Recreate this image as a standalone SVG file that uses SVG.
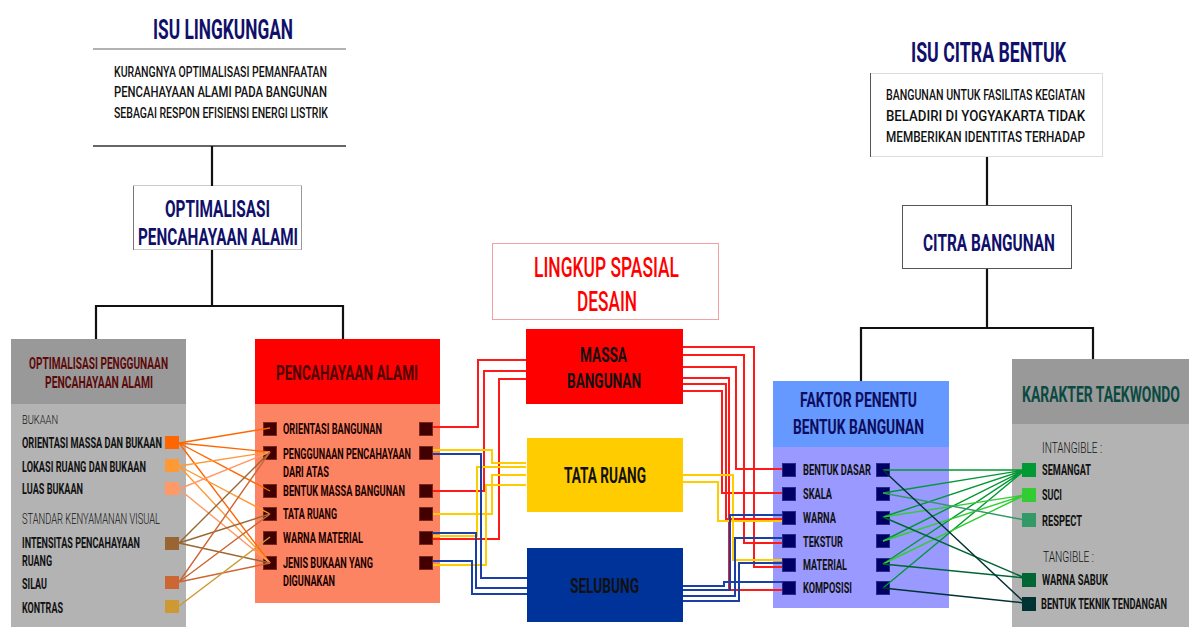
<svg xmlns="http://www.w3.org/2000/svg" width="1192" height="630" viewBox="0 0 1192 630">
<style>
text{font-family:Roboto,"Liberation Sans",sans-serif;}
.b{font-weight:700;}
.m{font-weight:500;}
.l{font-weight:300;}
.navy{fill:#10106b;}
.blk{fill:#111;}
.tree{fill:none;stroke:#111;stroke-width:2.2;}
.w{fill:none;stroke-width:2;}
.r{stroke:#ff1a1a;}
.y{stroke:#ffcc00;}
.bl{stroke:#1a3fa6;}
.g{fill:none;stroke-width:1.4;}
.pa{fill:#420000;stroke:#7a2a1a;stroke-width:1;}
.fk{fill:#000066;stroke:#2a2a8a;stroke-width:1;}
</style>

<rect width="1192" height="630" fill="#fff"/>

<!-- Left top: ISU LINGKUNGAN -->
<g id="isu-lingkungan">
<text x="223" y="39" class="b navy" font-size="28" text-anchor="middle" textLength="140" lengthAdjust="spacingAndGlyphs">ISU LINGKUNGAN</text>
<line x1="93" y1="49" x2="346" y2="49" stroke="#999" stroke-width="1.5"/>
<text x="114" y="77" class="m blk" font-size="14" textLength="213" lengthAdjust="spacingAndGlyphs">KURANGNYA OPTIMALISASI PEMANFAATAN</text>
<text x="114" y="97" class="m blk" font-size="14" textLength="213" lengthAdjust="spacingAndGlyphs">PENCAHAYAAN  ALAMI  PADA  BANGUNAN</text>
<text x="114" y="118" class="m blk" font-size="14" textLength="214" lengthAdjust="spacingAndGlyphs">SEBAGAI RESPON EFISIENSI ENERGI LISTRIK</text>
<line x1="93" y1="146" x2="346" y2="146" stroke="#333" stroke-width="1.5"/>
</g>

<g id="optimalisasi-pencahayaan">
<rect x="133.5" y="185.5" width="168" height="64" fill="#fff" stroke="#ccc" stroke-width="1"/>
<line x1="133.5" y1="186" x2="133.5" y2="250" stroke="#777"/>
<line x1="301.5" y1="186" x2="301.5" y2="250" stroke="#999"/>
<text x="217.5" y="217" class="b navy" font-size="24" text-anchor="middle" textLength="105" lengthAdjust="spacingAndGlyphs">OPTIMALISASI</text>
<text x="218" y="245" class="b navy" font-size="24" text-anchor="middle" textLength="160" lengthAdjust="spacingAndGlyphs">PENCAHAYAAN ALAMI</text>
</g>

<!-- Right top: ISU CITRA BENTUK -->
<g id="isu-citra-bentuk">
<text x="988.5" y="62" class="b navy" font-size="28" text-anchor="middle" textLength="155" lengthAdjust="spacingAndGlyphs">ISU CITRA BENTUK</text>
<rect x="870.5" y="73.5" width="232" height="83" fill="#fff" stroke="#ddd" stroke-width="1"/>
<line x1="870.5" y1="73" x2="870.5" y2="157" stroke="#555"/>
<text x="886" y="100" class="m blk" font-size="14" textLength="199" lengthAdjust="spacingAndGlyphs">BANGUNAN UNTUK FASILITAS KEGIATAN</text>
<text x="886" y="121" class="m blk" font-size="14" textLength="199" lengthAdjust="spacingAndGlyphs">BELADIRI  DI  YOGYAKARTA  TIDAK</text>
<text x="886" y="142" class="m blk" font-size="14" textLength="199" lengthAdjust="spacingAndGlyphs">MEMBERIKAN  IDENTITAS  TERHADAP</text>
</g>

<g id="citra-bangunan">
<rect x="902.5" y="205.5" width="169" height="63" fill="#fff" stroke="#555" stroke-width="1"/>
<text x="989" y="251" class="b navy" font-size="24" text-anchor="middle" textLength="132" lengthAdjust="spacingAndGlyphs">CITRA BANGUNAN</text>
</g>

<!-- Left box -->
<g id="optimalisasi-penggunaan">
<rect x="11" y="339" width="175" height="65" fill="#999999"/>
<rect x="11" y="404" width="175" height="223" fill="#b3b3b3"/>
<text x="98.5" y="369" class="b" fill="#5c0a0a" font-size="16" text-anchor="middle" textLength="139" lengthAdjust="spacingAndGlyphs">OPTIMALISASI PENGGUNAAN</text>
<text x="99" y="388" class="b" fill="#5c0a0a" font-size="16" text-anchor="middle" textLength="108" lengthAdjust="spacingAndGlyphs">PENCAHAYAAN ALAMI</text>
<text x="22" y="424" class="l blk" font-size="13" textLength="36" lengthAdjust="spacingAndGlyphs">BUKAAN</text>
<text x="22" y="448" class="b blk" font-size="15" textLength="140" lengthAdjust="spacingAndGlyphs">ORIENTASI MASSA DAN BUKAAN</text>
<text x="22" y="472" class="b blk" font-size="15" textLength="124" lengthAdjust="spacingAndGlyphs">LOKASI RUANG DAN BUKAAN</text>
<text x="22" y="494" class="b blk" font-size="15" textLength="61" lengthAdjust="spacingAndGlyphs">LUAS BUKAAN</text>
<text x="22" y="524" class="l blk" font-size="14" textLength="138" lengthAdjust="spacingAndGlyphs">STANDAR KENYAMANAN VISUAL</text>
<text x="22" y="548" class="b blk" font-size="15" textLength="118" lengthAdjust="spacingAndGlyphs">INTENSITAS PENCAHAYAAN</text>
<text x="22" y="566" class="b blk" font-size="15" textLength="30" lengthAdjust="spacingAndGlyphs">RUANG</text>
<text x="22" y="589" class="b blk" font-size="15" textLength="25" lengthAdjust="spacingAndGlyphs">SILAU</text>
<text x="22" y="613" class="b blk" font-size="15" textLength="41" lengthAdjust="spacingAndGlyphs">KONTRAS</text>
<rect x="165" y="436" width="14" height="13" fill="#ff6600"/>
<rect x="165" y="459" width="14" height="13" fill="#ff9933"/>
<rect x="165" y="482" width="14" height="13" fill="#ff9966"/>
<rect x="165" y="537" width="14" height="13" fill="#996633"/>
<rect x="165" y="576" width="14" height="13" fill="#cc6633"/>
<rect x="165" y="600" width="14" height="13" fill="#cc9933"/>
</g>

<!-- Pencahayaan Alami -->
<g id="pencahayaan-alami">
<rect x="255" y="339" width="185" height="65" fill="#ff0000"/>
<rect x="255" y="404" width="185" height="199" fill="#fd8462"/>
<text x="347" y="380" class="b" fill="#4d0000" font-size="21" text-anchor="middle" textLength="142" lengthAdjust="spacingAndGlyphs">PENCAHAYAAN ALAMI</text>
<text x="283" y="434" class="b" fill="#1a0000" font-size="15" textLength="99" lengthAdjust="spacingAndGlyphs">ORIENTASI BANGUNAN</text>
<text x="283" y="459" class="b" fill="#1a0000" font-size="15" textLength="128" lengthAdjust="spacingAndGlyphs">PENGGUNAAN PENCAHAYAAN</text>
<text x="283" y="477" class="b" fill="#1a0000" font-size="15" textLength="46" lengthAdjust="spacingAndGlyphs">DARI ATAS</text>
<text x="283" y="496" class="b" fill="#1a0000" font-size="15" textLength="122" lengthAdjust="spacingAndGlyphs">BENTUK MASSA BANGUNAN</text>
<text x="283" y="519" class="b" fill="#1a0000" font-size="15" textLength="54" lengthAdjust="spacingAndGlyphs">TATA RUANG</text>
<text x="283" y="543" class="b" fill="#1a0000" font-size="15" textLength="80" lengthAdjust="spacingAndGlyphs">WARNA MATERIAL</text>
<text x="283" y="568" class="b" fill="#1a0000" font-size="15" textLength="90" lengthAdjust="spacingAndGlyphs">JENIS BUKAAN YANG</text>
<text x="283" y="586" class="b" fill="#1a0000" font-size="15" textLength="52" lengthAdjust="spacingAndGlyphs">DIGUNAKAN</text>
<rect x="263.5" y="422.5" width="13" height="13" class="pa"/>
<rect x="263.5" y="446.5" width="13" height="13" class="pa"/>
<rect x="263.5" y="484.5" width="13" height="13" class="pa"/>
<rect x="263.5" y="507.5" width="13" height="13" class="pa"/>
<rect x="263.5" y="531.5" width="13" height="13" class="pa"/>
<rect x="263.5" y="556.5" width="13" height="13" class="pa"/>
<rect x="419.5" y="422.5" width="13" height="13" class="pa"/>
<rect x="419.5" y="446.5" width="13" height="13" class="pa"/>
<rect x="419.5" y="484.5" width="13" height="13" class="pa"/>
<rect x="419.5" y="507.5" width="13" height="13" class="pa"/>
<rect x="419.5" y="531.5" width="13" height="13" class="pa"/>
<rect x="419.5" y="556.5" width="13" height="13" class="pa"/>
</g>

<!-- Middle -->
<g id="lingkup-spasial">
<rect x="492.5" y="243.5" width="226" height="76" fill="#fff" stroke="#f4a0a0" stroke-width="1"/>
<text x="606.5" y="277" class="m" fill="#ff0000" font-size="28" text-anchor="middle" textLength="145" lengthAdjust="spacingAndGlyphs">LINGKUP SPASIAL</text>
<text x="607" y="311" class="m" fill="#ff0000" font-size="28" text-anchor="middle" textLength="60" lengthAdjust="spacingAndGlyphs">DESAIN</text>
</g>
<g id="massa-bangunan">
<rect x="526" y="329" width="157" height="75" fill="#ff0000"/>
<text x="603.5" y="362" class="b blk" font-size="21" text-anchor="middle" textLength="47" lengthAdjust="spacingAndGlyphs">MASSA</text>
<text x="604" y="388" class="b blk" font-size="21" text-anchor="middle" textLength="74" lengthAdjust="spacingAndGlyphs">BANGUNAN</text>
</g>
<g id="tata-ruang">
<rect x="527" y="438" width="156" height="74" fill="#ffcc00"/>
<text x="605" y="483" class="b blk" font-size="22" text-anchor="middle" textLength="82" lengthAdjust="spacingAndGlyphs">TATA RUANG</text>
</g>
<g id="selubung">
<rect x="527" y="548" width="156" height="74" fill="#003399"/>
<text x="604.5" y="593" class="b blk" font-size="21" text-anchor="middle" textLength="69" lengthAdjust="spacingAndGlyphs">SELUBUNG</text>
</g>

<!-- Faktor penentu -->
<g id="faktor-penentu">
<rect x="773" y="381" width="176" height="66" fill="#6699ff"/>
<rect x="773" y="447" width="176" height="161" fill="#9999ff"/>
<text x="858.5" y="407" class="b" fill="#0d0d5e" font-size="21" text-anchor="middle" textLength="117" lengthAdjust="spacingAndGlyphs">FAKTOR PENENTU</text>
<text x="858.5" y="434" class="b" fill="#0d0d5e" font-size="21" text-anchor="middle" textLength="131" lengthAdjust="spacingAndGlyphs">BENTUK BANGUNAN</text>
<text x="803" y="475" class="b blk" font-size="14" textLength="68" lengthAdjust="spacingAndGlyphs">BENTUK DASAR</text>
<text x="803" y="499" class="b blk" font-size="14" textLength="29" lengthAdjust="spacingAndGlyphs">SKALA</text>
<text x="803" y="523" class="b blk" font-size="14" textLength="33" lengthAdjust="spacingAndGlyphs">WARNA</text>
<text x="803" y="547" class="b blk" font-size="14" textLength="40" lengthAdjust="spacingAndGlyphs">TEKSTUR</text>
<text x="803" y="570" class="b blk" font-size="14" textLength="44" lengthAdjust="spacingAndGlyphs">MATERIAL</text>
<text x="803" y="593" class="b blk" font-size="14" textLength="49" lengthAdjust="spacingAndGlyphs">KOMPOSISI</text>
<rect x="782.5" y="463.5" width="13" height="13" class="fk"/>
<rect x="782.5" y="487.5" width="13" height="13" class="fk"/>
<rect x="782.5" y="511.5" width="13" height="13" class="fk"/>
<rect x="782.5" y="534.5" width="13" height="13" class="fk"/>
<rect x="782.5" y="558.5" width="13" height="13" class="fk"/>
<rect x="782.5" y="581.5" width="13" height="13" class="fk"/>
<rect x="876.5" y="463.5" width="13" height="13" class="fk"/>
<rect x="876.5" y="487.5" width="13" height="13" class="fk"/>
<rect x="876.5" y="511.5" width="13" height="13" class="fk"/>
<rect x="876.5" y="534.5" width="13" height="13" class="fk"/>
<rect x="876.5" y="558.5" width="13" height="13" class="fk"/>
<rect x="876.5" y="581.5" width="13" height="13" class="fk"/>
</g>

<!-- Karakter taekwondo -->
<g id="karakter-taekwondo">
<rect x="1012" y="359" width="177" height="65" fill="#999999"/>
<rect x="1012" y="424" width="177" height="203" fill="#b3b3b3"/>
<text transform="translate(1101,402) scale(0.6,1)" x="0" y="0" class="b" fill="#0b4a42" font-size="22" text-anchor="middle" textLength="263" lengthAdjust="spacingAndGlyphs">KARAKTER TAEKWONDO</text>
<text x="1042" y="453" class="l blk" font-size="15" textLength="60" lengthAdjust="spacingAndGlyphs">INTANGIBLE :</text>
<text x="1042" y="475" class="b blk" font-size="14" textLength="49" lengthAdjust="spacingAndGlyphs">SEMANGAT</text>
<text x="1042" y="500" class="b blk" font-size="14" textLength="20" lengthAdjust="spacingAndGlyphs">SUCI</text>
<text x="1042" y="526" class="b blk" font-size="14" textLength="40" lengthAdjust="spacingAndGlyphs">RESPECT</text>
<text x="1043" y="562" class="l blk" font-size="15" textLength="51" lengthAdjust="spacingAndGlyphs">TANGIBLE :</text>
<text x="1042" y="585" class="b blk" font-size="14" textLength="66" lengthAdjust="spacingAndGlyphs">WARNA SABUK</text>
<text transform="translate(1041,609) scale(0.7,1)" x="0" y="0" class="b blk" font-size="14" textLength="180" lengthAdjust="spacingAndGlyphs">BENTUK TEKNIK TENDANGAN</text>
<rect x="1022" y="463" width="14" height="14" fill="#009933"/>
<rect x="1022" y="488" width="14" height="14" fill="#33cc33"/>
<rect x="1022" y="513" width="14" height="14" fill="#339966"/>
<rect x="1022" y="573" width="14" height="14" fill="#006633"/>
<rect x="1022" y="597" width="14" height="14" fill="#003333"/>
</g>

<!-- Connectors -->
<g id="connectors">
<path class="tree" d="M212,146 V186 M212,250 V306 M96,306 H343 M96,305 V339 M343,305 V339"/>
<path class="tree" d="M987,157 V205 M987,269 V328 M861,328 H1093 M861,327 V381 M1093,327 V359"/>

<g class="g">
<path stroke="#ff6600" d="M179,443 L270,428 M179,443 L270,452 M179,443 L270,491 M179,443 L270,563"/>
<path stroke="#ff9933" d="M179,466 L270,452 M179,466 L270,514 M179,466 L270,563"/>
<path stroke="#ff9966" d="M179,489 L270,452 M179,489 L270,563"/>
<path stroke="#996633" d="M179,543 L270,452 M179,543 L270,514 M179,543 L270,563"/>
<path stroke="#cc6633" d="M179,582 L270,452 M179,582 L270,514 M179,582 L270,563"/>
<path stroke="#cc9933" d="M179,606 L270,537"/>
</g>

<path class="w r" d="M433,427 H478 V360 H526"/>
<path class="w r" d="M433,491 H484 V371 H526"/>
<path class="w r" d="M433,539 H499 V379 H526"/>
<path class="w y" d="M433,450 H492 V463 H526"/>
<path class="w y" d="M433,514 H492 V475 H526"/>
<path class="w y" d="M433,536 H477 V467 H526"/>
<path class="w y" d="M433,565 H486 V485 H526"/>
<path class="w bl" d="M433,454 H481 V578 H527"/>
<path class="w bl" d="M433,533 H476 V588 H527"/>
<path class="w bl" d="M433,561 H472 V594 H527"/>

<path class="w r" d="M683,347 H754 V567 H782"/>
<path class="w r" d="M683,355 H744 V543 H782"/>
<path class="w r" d="M683,367 H736 V469 H782"/>
<path class="w r" d="M683,378 H729 V590 H782"/>
<path class="w r" d="M683,384 H726 V519 H782"/>
<path class="w r" d="M683,391 H722 V493 H782"/>
<path class="w y" d="M683,475 H733 V560 H782"/>
<path class="w y" d="M683,482 H718 V521 H782"/>
<path class="w bl" d="M683,586 H724 V582 H782"/>
<path class="w bl" d="M683,590 H730 V515 H782"/>
<path class="w bl" d="M683,596 H735 V538 H782"/>
<path class="w bl" d="M683,601 H739 V563 H782"/>

<g class="g">
<path stroke="#009933" d="M883,470 L1025,470 M883,493 L1025,470 M883,517 L1025,470 M883,541 L1025,470 M883,564 L1025,470 M883,588 L1025,470"/>
<path stroke="#33cc33" d="M883,517 L1025,495 M883,541 L1025,495 M883,564 L1025,495"/>
<path stroke="#339966" d="M883,493 L1025,520"/>
<path stroke="#006633" d="M883,517 L1025,578 M883,564 L1025,578"/>
<path stroke="#003333" d="M883,470 L1025,603 M883,588 L1025,603"/>
</g>
</g>
</svg>
